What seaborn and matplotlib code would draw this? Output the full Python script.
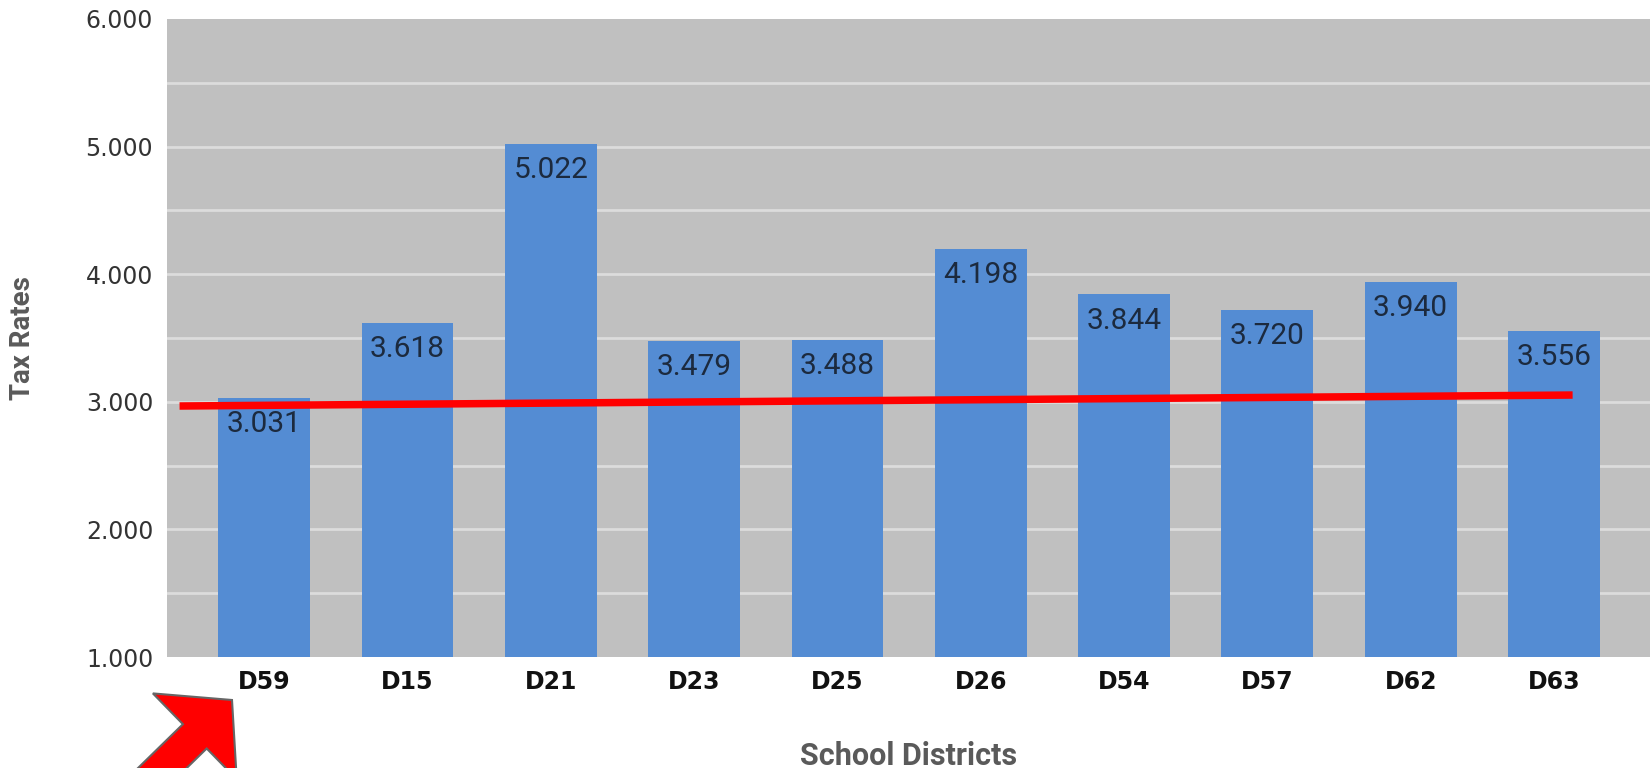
import matplotlib
matplotlib.use("Agg")
import matplotlib.pyplot as plt
import seaborn as sns
from matplotlib.patches import FancyArrow
from matplotlib.transforms import IdentityTransform

districts = ["D59", "D15", "D21", "D23", "D25", "D26", "D54", "D57", "D62", "D63"]
tax_rates = [3.031, 3.618, 5.022, 3.479, 3.488, 4.198, 3.844, 3.720, 3.940, 3.556]
y_ticks = [1, 2, 3, 4, 5, 6]
# hand-drawn red line, endpoints (category units / rate)
trend_x = [-0.59, 9.13]
trend_y = [2.967, 3.053]

sns.set_style("white")
fig = plt.figure(figsize=(16.51, 7.68), dpi=100)
ax = fig.add_axes([0.1012, 0.1445, 0.8982, 0.8308])
ax.set_facecolor("#c0c0c0")

sns.barplot(x=districts, y=tax_rates, color="#548cd3", saturation=1,
            width=0.64, linewidth=0, ax=ax, zorder=3)
ax.set_ylim(1, 6)
ax.set_xlim(-0.677, 9.67)

# white-ish gridlines every 0.5
for v in [1.5, 2, 2.5, 3, 3.5, 4, 4.5, 5, 5.5]:
    ax.axhline(v, color="#dcdcdc", lw=2, zorder=1)

for i, v in enumerate(tax_rates):
    ax.annotate(f"{v:.3f}", (i, v), xytext=(0, -9), textcoords="offset points",
                ha="center", va="top", fontsize=21.5, color="#1c2a3e",
                family="Roboto", zorder=5)

ax.plot(trend_x, trend_y, color="#ff0000", lw=5.4, zorder=4,
        solid_capstyle="butt")

ax.set_yticks(y_ticks)
ax.set_yticklabels([f"{t:.3f}" for t in y_ticks])
ax.tick_params(axis="y", length=0, pad=10, labelsize=17, labelcolor="#333333")
ax.tick_params(axis="x", length=0, pad=9, labelsize=17, labelcolor="#111111")
for lab in ax.get_xticklabels():
    lab.set_fontweight("bold")

ax.set_xlabel("School Districts", fontsize=22, fontweight="bold",
              family="Roboto", color="#5a5a5a", labelpad=34)
ax.set_ylabel("Tax Rates", fontsize=20, fontweight="bold",
              family="Roboto", color="#5a5a5a", labelpad=36)
sns.despine(ax=ax, left=True, bottom=True, right=True, top=True)

# big red call-out arrow in the lower left (display pixels)
arrow = FancyArrow(124.7, -36.8, 107.3, 104.8, width=34, head_width=120,
                   head_length=52, length_includes_head=True,
                   facecolor="#ff0000", edgecolor="#666666", lw=1.5,
                   transform=IdentityTransform(), figure=fig)
fig.patches.append(arrow)

fig.savefig("out.png", dpi=100)
